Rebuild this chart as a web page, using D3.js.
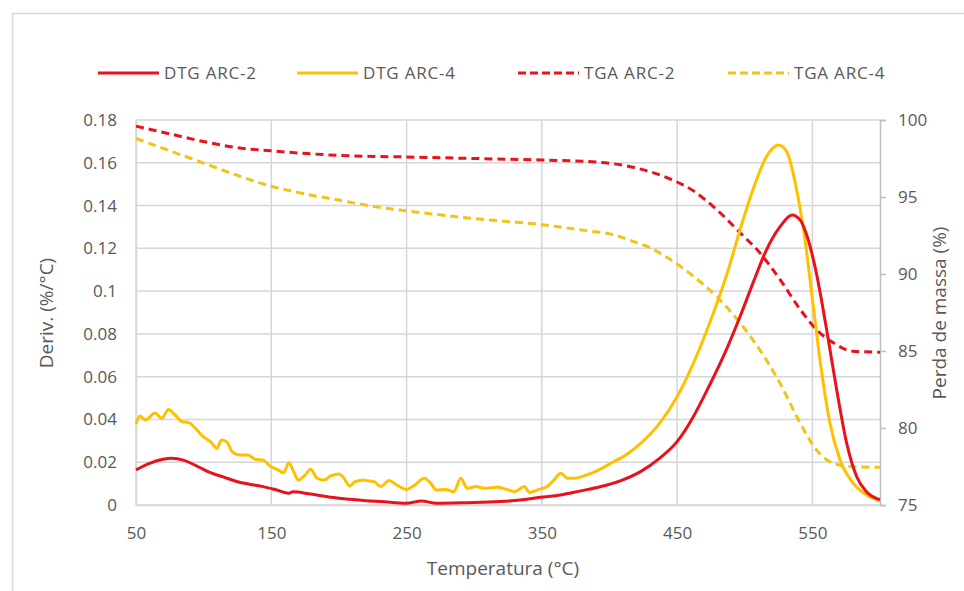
<!DOCTYPE html>
<html>
<head>
<meta charset="utf-8">
<script src="https://cdn.jsdelivr.net/npm/d3@7"></script>
<style>
  body { margin: 0; background: #fff; }
  text { font-family: "Open Sans", sans-serif; fill: #595959; }
</style>
</head>
<body>
<script>
// data (temperature in °C)
const dtg2Temp = [50, 60, 70, 76, 85, 95, 105, 115, 125, 134, 144, 154, 163, 166, 179, 194, 208, 223, 231, 250, 261, 272, 295, 319, 334, 349, 364, 378, 393, 408, 423, 437, 450, 462, 474, 487, 496.5, 506, 516, 526, 535, 541, 547, 553, 560.6, 568, 575.4, 582.8, 590, 600];
const dtg2Val  = [0.0164, 0.0195, 0.0214, 0.0218, 0.021, 0.0182, 0.0151, 0.013, 0.0109, 0.0097, 0.0086, 0.007, 0.0055, 0.0062, 0.0051, 0.0036, 0.0027, 0.0019, 0.0016, 0.0008, 0.0019, 0.0008, 0.0011, 0.0016, 0.0023, 0.0036, 0.0047, 0.0065, 0.0085, 0.0113, 0.0156, 0.0218, 0.0296, 0.0413, 0.056, 0.0735, 0.088, 0.1036, 0.1192, 0.130, 0.1356, 0.1332, 0.1239, 0.1083, 0.0818, 0.0538, 0.0288, 0.0132, 0.0062, 0.0025];

const dtg4Temp = [50, 53, 57, 64, 69, 74, 79, 84, 89, 94, 99, 105, 110, 113, 117, 121, 127, 133, 138, 144, 149, 155, 159, 163, 166, 170, 175, 179, 184, 189, 194, 200, 203, 208, 212, 218, 221, 226, 231, 237, 243, 250, 256, 263, 268, 272, 279, 285, 290, 295, 301, 308, 317, 324, 330, 337, 341, 348, 354, 359, 364, 369, 374, 383, 393, 403, 408, 423, 437, 450, 462, 474, 487, 496.5, 506, 516, 525, 531, 538.4, 544.6, 550.7, 557, 563, 570.5, 580.3, 590, 600];
const dtg4Val  = [0.038, 0.0416, 0.0397, 0.043, 0.0405, 0.0447, 0.042, 0.039, 0.0385, 0.0358, 0.0323, 0.0296, 0.0265, 0.0304, 0.0296, 0.025, 0.0234, 0.0234, 0.0214, 0.021, 0.0182, 0.0164, 0.0151, 0.0198, 0.0164, 0.0117, 0.014, 0.0167, 0.0125, 0.0117, 0.0136, 0.0145, 0.0132, 0.0089, 0.0109, 0.0117, 0.0114, 0.0109, 0.0086, 0.0114, 0.0093, 0.0073, 0.0093, 0.0125, 0.0101, 0.007, 0.0073, 0.0062, 0.0125, 0.0078, 0.0086, 0.0078, 0.0083, 0.0073, 0.0062, 0.0086, 0.0058, 0.0073, 0.0086, 0.0117, 0.0148, 0.0125, 0.0125, 0.014, 0.0167, 0.0202, 0.0218, 0.0288, 0.0382, 0.0506, 0.0662, 0.085, 0.1083, 0.1286, 0.1473, 0.1628, 0.1683, 0.1652, 0.1473, 0.1239, 0.0927, 0.0616, 0.0382, 0.021, 0.0101, 0.0047, 0.002];

const tga2Temp = [50, 75, 100, 125, 150, 200, 250, 300, 350, 393, 418, 442, 462, 479, 496.5, 511, 526, 541, 553, 565.5, 580, 600];
const tga2Val  = [99.6, 99.1, 98.6, 98.2, 98.0, 97.7, 97.6, 97.5, 97.4, 97.25, 96.92, 96.27, 95.4, 94.2, 92.69, 91.39, 89.65, 87.7, 86.39, 85.53, 84.98, 84.92];

const tga4Temp = [50, 75, 100, 125, 150, 175, 200, 225, 250, 300, 350, 380, 405, 418, 430, 442, 462, 479, 496.5, 511, 526, 541, 553, 565.5, 580, 600];
const tga4Val  = [98.8, 98.0, 97.2, 96.4, 95.7, 95.2, 94.8, 94.4, 94.1, 93.6, 93.2, 92.85, 92.5, 92.1, 91.7, 91.1, 89.86, 88.56, 86.83, 85.09, 82.92, 80.32, 78.58, 77.71, 77.49, 77.45];

const seriesNames = ["DTG ARC-2", "DTG ARC-4", "TGA ARC-2", "TGA ARC-4"];
const xTicks = [50, 150, 250, 350, 450, 550];
const yLeftTicks = [0, 0.02, 0.04, 0.06, 0.08, 0.1, 0.12, 0.14, 0.16, 0.18];
const yRightTicks = [75, 80, 85, 90, 95, 100];

const canvWidth = 964, canvHeight = 591;
const svg = d3.select("body").append("svg")
    .attr("width", canvWidth)
    .attr("height", canvHeight);

// outer chart border
svg.append("rect")
    .attr("x", 12.5).attr("y", 13.5)
    .attr("width", 1000).attr("height", 700)
    .attr("fill", "none")
    .attr("stroke", "#d9d9d9")
    .attr("stroke-width", 1.5);

const plot = { left: 136, right: 880, top: 120, bottom: 505 };

const xScale = d3.scaleLinear().domain([50, 600]).range([plot.left, plot.right]);
const yLeft = d3.scaleLinear().domain([0, 0.18]).range([plot.bottom, plot.top]);
const yRight = d3.scaleLinear().domain([75, 100]).range([plot.bottom, plot.top]);

const gridColor = "#d6d6d6";

// horizontal gridlines
svg.append("g").selectAll("line")
    .data(yLeftTicks)
    .enter().append("line")
    .attr("x1", plot.left).attr("x2", plot.right)
    .attr("y1", d => yLeft(d)).attr("y2", d => yLeft(d))
    .attr("stroke", gridColor).attr("stroke-width", 1.5);

// vertical gridlines
svg.append("g").selectAll("line")
    .data(xTicks)
    .enter().append("line")
    .attr("x1", d => xScale(d)).attr("x2", d => xScale(d))
    .attr("y1", plot.top).attr("y2", plot.bottom)
    .attr("stroke", gridColor).attr("stroke-width", 1.5);

// left axis
const leftAxis = svg.append("g")
    .attr("transform", "translate(" + plot.left + ",0)")
    .call(d3.axisLeft(yLeft).tickValues(yLeftTicks).tickSize(0).tickPadding(19).tickFormat(d => String(d)));
leftAxis.select(".domain").attr("stroke", gridColor).attr("stroke-width", 1.5);
leftAxis.selectAll("text").attr("font-size", "17px").attr("fill", "#595959");

// bottom axis
const bottomAxis = svg.append("g")
    .attr("transform", "translate(0," + plot.bottom + ")")
    .call(d3.axisBottom(xScale).tickValues(xTicks).tickSize(0).tickPadding(22));
bottomAxis.select(".domain").attr("stroke", gridColor).attr("stroke-width", 1.5);
bottomAxis.selectAll("text").attr("font-size", "17px").attr("fill", "#595959");

// right axis
const rightAxis = svg.append("g")
    .attr("transform", "translate(" + plot.right + ",0)")
    .call(d3.axisRight(yRight).tickValues(yRightTicks).tickSize(6).tickPadding(12));
rightAxis.select(".domain").attr("stroke", "#bfbfbf").attr("stroke-width", 1.5);
rightAxis.selectAll(".tick line").attr("stroke", "#bfbfbf").attr("stroke-width", 1.5);
rightAxis.selectAll("text").attr("font-size", "17px").attr("fill", "#595959");

// axis titles
svg.append("text")
    .attr("x", (plot.left + plot.right) / 2 - 5)
    .attr("y", 575)
    .attr("font-size", "19px")
    .style("text-anchor", "middle")
    .text("Temperatura (°C)");

svg.append("text")
    .attr("transform", "translate(53,313) rotate(-90)")
    .attr("font-size", "19px")
    .style("text-anchor", "middle")
    .text("Deriv. (%/°C)");

svg.append("text")
    .attr("transform", "translate(946,313) rotate(-90)")
    .attr("font-size", "19px")
    .style("text-anchor", "middle")
    .text("Perda de massa (%)");

const red = "#e8121c", gold = "#ffc000", goldDash = "#f0c419";

const lineLeft = d3.line().x(d => xScale(d[0])).y(d => yLeft(d[1])).curve(d3.curveMonotoneX);
const lineRight = d3.line().x(d => xScale(d[0])).y(d => yRight(d[1])).curve(d3.curveMonotoneX);

const series = [
    { pts: d3.zip(tga4Temp, tga4Val), gen: lineRight, color: goldDash, dash: "8,5" },
    { pts: d3.zip(tga2Temp, tga2Val), gen: lineRight, color: red, dash: "8,5" },
    { pts: d3.zip(dtg4Temp, dtg4Val), gen: lineLeft, color: gold, dash: null },
    { pts: d3.zip(dtg2Temp, dtg2Val), gen: lineLeft, color: red, dash: null }
];

svg.append("g").selectAll("path")
    .data(series)
    .enter().append("path")
    .attr("d", d => d.gen(d.pts))
    .attr("fill", "none")
    .attr("stroke", d => d.color)
    .attr("stroke-width", 3)
    .attr("stroke-dasharray", d => d.dash)
    .attr("stroke-linejoin", "round");

// legend
const legendItems = [
    { name: seriesNames[0], x: 98, color: red, dash: null },
    { name: seriesNames[1], x: 297, color: gold, dash: null },
    { name: seriesNames[2], x: 518, color: red, dash: "8,4" },
    { name: seriesNames[3], x: 728, color: goldDash, dash: "8,4" }
];
const legend = svg.append("g").selectAll("g")
    .data(legendItems)
    .enter().append("g")
    .attr("transform", d => "translate(" + d.x + ",73)");
legend.append("line")
    .attr("x1", 0).attr("x2", 61)
    .attr("stroke", d => d.color)
    .attr("stroke-width", 3)
    .attr("stroke-dasharray", d => d.dash);
legend.append("text")
    .attr("x", 66)
    .attr("dy", "0.35em")
    .attr("font-size", "17px")
    .attr("letter-spacing", "0.8px")
    .text(d => d.name);
</script>
</body>
</html>
